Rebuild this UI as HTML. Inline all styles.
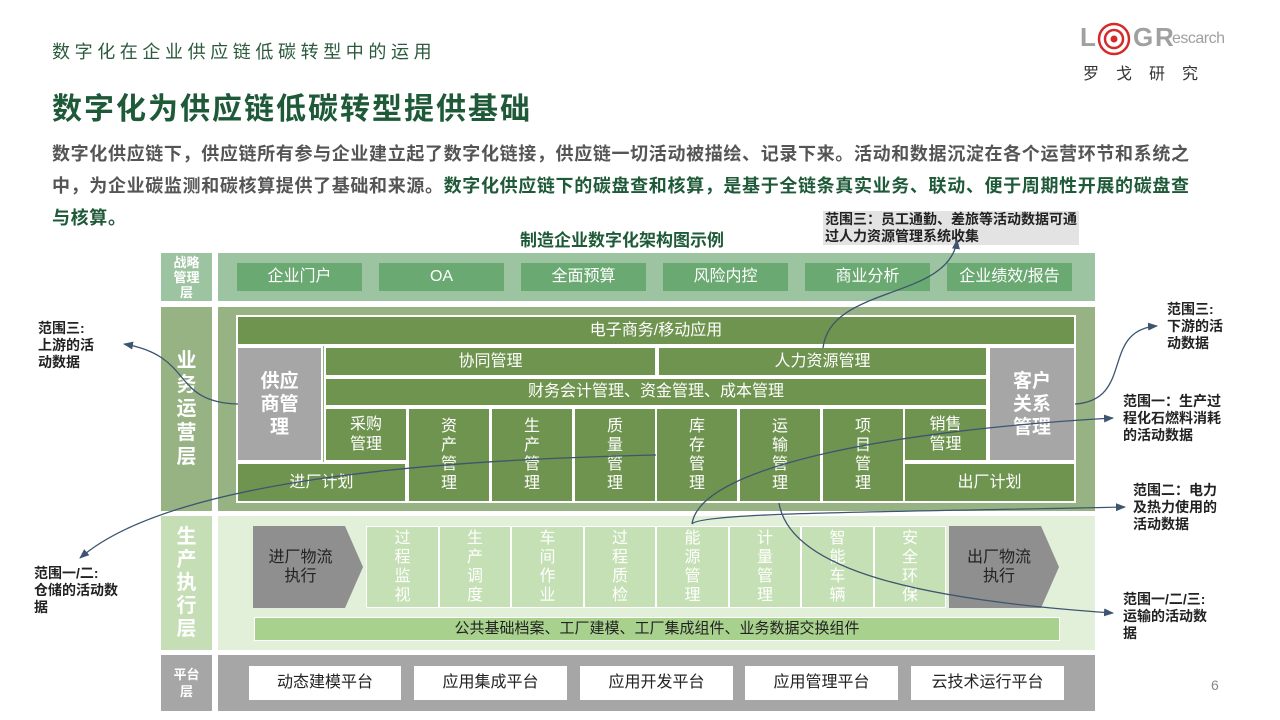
<!DOCTYPE html>
<html><head><meta charset="utf-8"><style>
*{margin:0;padding:0;box-sizing:border-box}
body{width:1280px;height:720px;background:#fff;position:relative;overflow:hidden;font-family:"Liberation Sans","Noto Sans CJK SC",sans-serif}
.a{position:absolute}
.b{position:absolute;display:flex;align-items:center;justify-content:center;text-align:center;color:#fff;font-size:16px;line-height:1.2}
.g{background:#6f944f;border:2px solid #fff}
.s{background:#6aa971;font-size:16px}
.gr{background:#a6a6a6;border:2px solid #fff;font-weight:bold;font-size:19px}
.lt{background:#c5e0b4;border:1px solid #fff;color:#fff;font-size:16px;line-height:19px}
.w{background:#fff;color:#222;font-size:16px}
.lab{position:absolute;color:#fff;font-weight:bold;display:flex;align-items:center;justify-content:center;text-align:center}
.c{position:absolute;font-size:14px;font-weight:bold;color:#222;line-height:17px}
.p{position:absolute;left:52px;font-size:18px;font-weight:bold;color:#555;white-space:nowrap;letter-spacing:0.65px}
</style></head><body>
<div class="a" style="left:52px;top:38px;font-size:18px;color:#2b5a3c;letter-spacing:4.6px">数字化在企业供应链低碳转型中的运用</div>
<div class="a" style="left:52px;top:84px;font-size:30px;font-weight:bold;color:#1f5a38;letter-spacing:2px">数字化为供应链低碳转型提供基础</div>
<div class="p" style="top:140px">数字化供应链下，供应链所有参与企业建立起了数字化链接，供应链一切活动被描绘、记录下来。活动和数据沉淀在各个运营环节和系统之</div>
<div class="p" style="top:172px">中，为企业碳监测和碳核算提供了基础和来源。<span style="color:#1f5a38">数字化供应链下的碳盘查和核算，是基于全链条真实业务、联动、便于周期性开展的碳盘查</span></div>
<div class="p" style="top:204px;color:#1f5a38">与核算。</div>
<!-- logo -->
<div class="a" style="left:1080px;top:22px;font-size:26px;font-weight:bold;color:#a0a0a0">L</div>
<svg class="a" style="left:1097px;top:22px" width="34" height="34"><circle cx="17" cy="17" r="15" fill="none" stroke="#d42a2a" stroke-width="2.5"/><circle cx="17" cy="17" r="9" fill="none" stroke="#d42a2a" stroke-width="2.5"/><circle cx="17" cy="17" r="3.5" fill="#d42a2a"/></svg>
<div class="a" style="left:1133px;top:22px;font-size:26px;font-weight:bold;color:#a0a0a0">G</div>
<div class="a" style="left:1155px;top:22px;font-size:26px;font-weight:bold;color:#a0a0a0">R</div>
<div class="a" style="left:1172px;top:30px;font-size:16px;color:#a0a0a0;letter-spacing:-0.5px">escarch</div>
<div class="a" style="left:1083px;top:60px;font-size:16px;color:#333;letter-spacing:17px">罗戈研究</div>
<div class="a" style="left:520px;top:226px;font-size:17px;font-weight:bold;color:#1f5a38">制造企业数字化架构图示例</div>
<div class="a" style="left:823px;top:211px;background:#e3e3e3;font-size:14px;font-weight:bold;color:#222;line-height:17px;padding:0 2px">范围三：员工通勤、差旅等活动数据可通<br>过人力资源管理系统收集</div>
<!-- strategy -->
<div class="lab" style="left:161px;top:253px;width:51px;height:48px;background:#9dc4a0;font-size:13px;line-height:15px">战略<br>管理<br>层</div>
<div class="a" style="left:218px;top:253px;width:877px;height:48px;background:#9dc4a0"></div>
<div class="b s" style="left:237px;top:263px;width:125px;height:28px">企业门户</div>
<div class="b s" style="left:379px;top:263px;width:125px;height:28px">OA</div>
<div class="b s" style="left:521px;top:263px;width:125px;height:28px">全面预算</div>
<div class="b s" style="left:663px;top:263px;width:125px;height:28px">风险内控</div>
<div class="b s" style="left:805px;top:263px;width:125px;height:28px">商业分析</div>
<div class="b s" style="left:947px;top:263px;width:125px;height:28px">企业绩效/报告</div>
<!-- business -->
<div class="lab" style="left:161px;top:307px;width:51px;height:204px;background:#97b383;font-size:20px;line-height:24px">业<br>务<br>运<br>营<br>层</div>
<div class="a" style="left:218px;top:307px;width:877px;height:204px;background:#97b383"></div>
<div class="b g" style="left:236px;top:315px;width:840px;height:31px">电子商务/移动应用</div>
<div class="b gr" style="left:236px;top:346px;width:87px;height:116px;line-height:23px">供应<br>商管<br>理</div>
<div class="b g" style="left:324px;top:346px;width:333px;height:31px">协同管理</div>
<div class="b g" style="left:657px;top:346px;width:331px;height:31px">人力资源管理</div>
<div class="b g" style="left:324px;top:377px;width:664px;height:30px">财务会计管理、资金管理、成本管理</div>
<div class="b g" style="left:324px;top:407px;width:84px;height:55px">采购<br>管理</div>
<div class="b g" style="left:236px;top:462px;width:171px;height:41px">进厂计划</div>
<div class="b g" style="left:407px;top:407px;width:84px;height:96px">资<br>产<br>管<br>理</div>
<div class="b g" style="left:490px;top:407px;width:84px;height:96px">生<br>产<br>管<br>理</div>
<div class="b g" style="left:573px;top:407px;width:84px;height:96px">质<br>量<br>管<br>理</div>
<div class="b g" style="left:655px;top:407px;width:84px;height:96px">库<br>存<br>管<br>理</div>
<div class="b g" style="left:738px;top:407px;width:84px;height:96px">运<br>输<br>管<br>理</div>
<div class="b g" style="left:821px;top:407px;width:84px;height:96px">项<br>目<br>管<br>理</div>
<div class="b g" style="left:903px;top:407px;width:85px;height:55px">销售<br>管理</div>
<div class="b g" style="left:903px;top:462px;width:173px;height:41px">出厂计划</div>
<div class="b gr" style="left:988px;top:346px;width:88px;height:116px;line-height:23px">客户<br>关系<br>管理</div>
<!-- production -->
<div class="lab" style="left:161px;top:516px;width:51px;height:134px;background:#c5deb5;font-size:20px;line-height:23px">生<br>产<br>执<br>行<br>层</div>
<div class="a" style="left:218px;top:516px;width:877px;height:134px;background:#e2efd9"></div>
<svg class="a" style="left:253px;top:526px" width="110" height="82"><polygon points="0,0 92,0 110,41 92,82 0,82" fill="#8f8f8f"/></svg>
<div class="b" style="left:253px;top:526px;width:95px;height:82px;color:#222;font-size:16px">进厂物流<br>执行</div>
<svg class="a" style="left:949px;top:526px" width="110" height="82"><polygon points="0,0 92,0 110,41 92,82 0,82" fill="#8f8f8f"/></svg>
<div class="b" style="left:949px;top:526px;width:100px;height:82px;color:#222;font-size:16px">出厂物流<br>执行</div>
<div class="a" style="left:366px;top:526px;width:580px;height:82px;border:1px solid #fff"></div>
<div class="b lt" style="left:366px;top:526px;width:73px;height:82px">过<br>程<br>监<br>视</div>
<div class="b lt" style="left:439px;top:526px;width:72px;height:82px">生<br>产<br>调<br>度</div>
<div class="b lt" style="left:511px;top:526px;width:73px;height:82px">车<br>间<br>作<br>业</div>
<div class="b lt" style="left:584px;top:526px;width:72px;height:82px">过<br>程<br>质<br>检</div>
<div class="b lt" style="left:656px;top:526px;width:73px;height:82px">能<br>源<br>管<br>理</div>
<div class="b lt" style="left:729px;top:526px;width:72px;height:82px">计<br>量<br>管<br>理</div>
<div class="b lt" style="left:801px;top:526px;width:73px;height:82px">智<br>能<br>车<br>辆</div>
<div class="b lt" style="left:874px;top:526px;width:72px;height:82px">安<br>全<br>环<br>保</div>
<div class="b" style="left:254px;top:617px;width:806px;height:24px;background:#a9d18e;color:#222;font-size:15px;border:1px solid #fff">公共基础档案、工厂建模、工厂集成组件、业务数据交换组件</div>
<!-- platform -->
<div class="lab" style="left:161px;top:655px;width:51px;height:56px;background:#a6a6a6;font-size:13px;line-height:17px">平台<br>层</div>
<div class="a" style="left:218px;top:655px;width:877px;height:56px;background:#a6a6a6"></div>
<div class="b w" style="left:249px;top:666px;width:152px;height:34px">动态建模平台</div>
<div class="b w" style="left:414px;top:666px;width:153px;height:34px">应用集成平台</div>
<div class="b w" style="left:580px;top:666px;width:153px;height:34px">应用开发平台</div>
<div class="b w" style="left:745px;top:666px;width:153px;height:34px">应用管理平台</div>
<div class="b w" style="left:911px;top:666px;width:153px;height:34px">云技术运行平台</div>
<div class="a" style="left:1211px;top:677px;font-size:14px;color:#888">6</div>
<!-- callouts -->
<div class="c" style="left:38px;top:320px">范围三:<br>上游的活<br>动数据</div>
<div class="c" style="left:34px;top:565px">范围一/二:<br>仓储的活动数<br>据</div>
<div class="c" style="left:1167px;top:301px">范围三:<br>下游的活<br>动数据</div>
<div class="c" style="left:1123px;top:393px">范围一：生产过<br>程化石燃料消耗<br>的活动数据</div>
<div class="c" style="left:1133px;top:482px">范围二：电力<br>及热力使用的<br>活动数据</div>
<div class="c" style="left:1123px;top:591px">范围一/二/三:<br>运输的活动数<br>据</div>
<svg class="a" style="left:0;top:0" width="1280" height="720">
<defs><marker id="ar" markerWidth="10" markerHeight="8" refX="9" refY="4" orient="auto" markerUnits="userSpaceOnUse"><path d="M0,0 L10,4 L0,8 Z" fill="#3d5570"/></marker></defs>
<g fill="none" stroke="#3d5570" stroke-width="1.3" marker-end="url(#ar)">
<path d="M238,404 C170,402 195,356 124,344"/>
<path d="M656,455 C430,460 170,480 80,558"/>
<path d="M823,348 C830,285 950,300 957,240"/>
<path d="M1075,404 C1135,400 1100,330 1157,326"/>
<path d="M692,524 C700,465 900,430 1113,418"/>
<path d="M692,524 C700,512 900,512 1125,507"/>
<path d="M779,503 C790,570 920,600 1113,613"/>
</g></svg>
</body></html>
